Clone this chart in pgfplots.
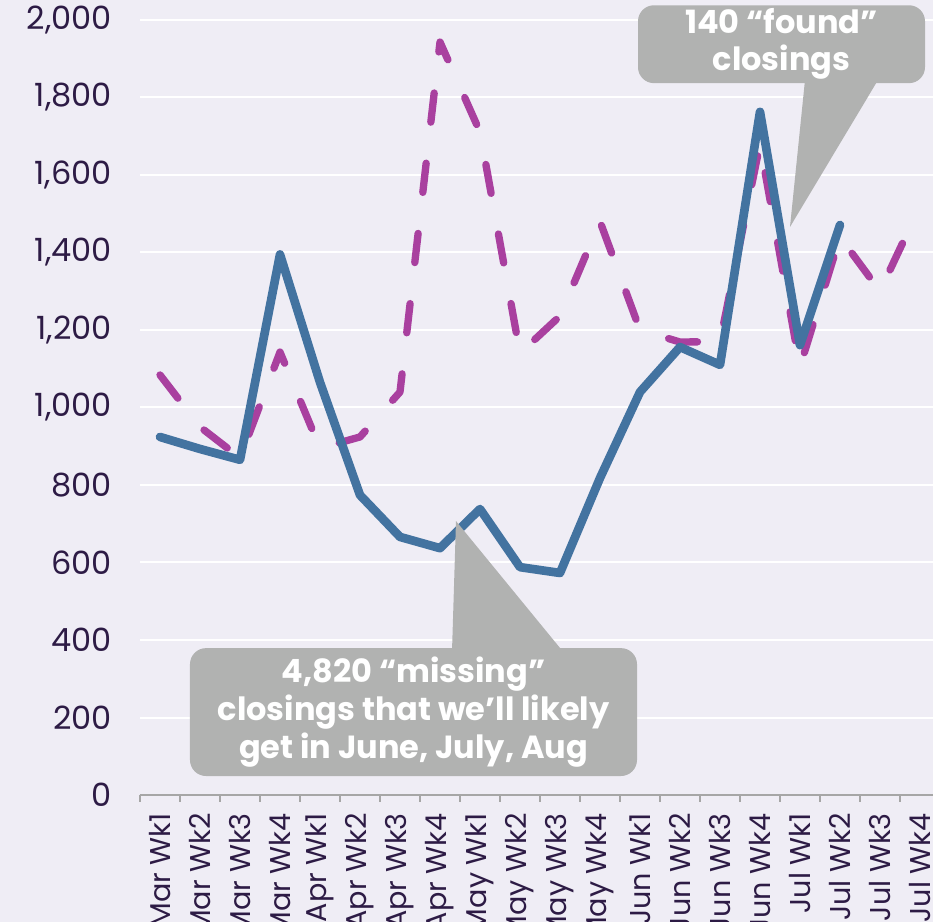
\documentclass[border=0pt]{standalone}
\usepackage{fontspec}
\setmainfont{Poppins}
\usepackage{pgfplots}
\pgfplotsset{compat=1.18}
\definecolor{bgpurple}{HTML}{EFEDF5}
\definecolor{lineblue}{HTML}{4373A0}
\definecolor{linemag}{HTML}{A9409F}
\definecolor{callgray}{HTML}{B1B2B1}
\definecolor{txtpurple}{HTML}{2D1B45}
\definecolor{axgray}{HTML}{A6A6A6}

\begin{document}
\begin{tikzpicture}
\path[use as bounding box, fill=bgpurple] (-105pt,-95.25pt) rectangle (594.75pt,596.25pt);
\begin{axis}[
    at={(0,0)}, anchor=south west,
    scale only axis, width=594.75pt, height=581.25pt,
    xmin=-0.5, xmax=19.325, ymin=0, ymax=2000,
    clip=false,
    axis x line*=bottom, axis y line*=left,
    y axis line style={draw=none},
    x axis line style={draw=axgray, line width=1.5pt, -},
    ytick={0,200,...,2000},
    ymajorgrids,
    grid style={white, line width=1.5pt},
    major tick length=0pt,
    xtick={0,...,19},
    xticklabels={Mar Wk1,Mar Wk2,Mar Wk3,Mar Wk4,Apr Wk1,Apr Wk2,Apr Wk3,Apr Wk4,May Wk1,May Wk2,May Wk3,May Wk4,Jun Wk1,Jun Wk2,Jun Wk3,Jun Wk4,Jul Wk1,Jul Wk2,Jul Wk3,Jul Wk4},
    xticklabel style={yshift=-13.5pt, rotate=90, anchor=east, inner sep=0pt,
        font=\fontsize{21.5}{25}\selectfont, text=txtpurple},
    yticklabel style={anchor=east, inner sep=0pt, xshift=-21pt,
        font=\fontsize{24}{28}\selectfont, text=txtpurple},
    /pgf/number format/assume math mode=true,
    /pgf/number format/1000 sep={,},
    scaled y ticks=false,
    extra x ticks={-0.5,0.5,...,18.5},
    extra x tick labels={},
    extra x tick style={major tick length=5pt, tick align=outside,
        grid=none, tick style={draw=axgray, line width=1.5pt}},
]
% last year (dashed)
\addplot[linemag, line width=5.5pt, line cap=round, line join=round,
    dash pattern=on 22pt off 31pt] coordinates {
    (0,1084) (1,950) (2,870) (3,1143) (4,895) (5,924) (6,1040) (7,1943)
    (8,1711) (9,1140) (10,1236) (11,1480) (12,1200) (13,1169) (14,1170)
    (15,1680) (16,1105) (17,1440) (18,1300) (19,1520)};
% this year
\addplot[lineblue, line width=6.5pt, line cap=round, line join=round] coordinates {
    (0,924) (1,893) (2,865) (3,1395) (4,1065) (5,774) (6,666) (7,637)
    (8,738) (9,588) (10,573) (11,818) (12,1040) (13,1156) (14,1110)
    (15,1763) (16,1161) (17,1471)};

% callouts
\fill[callgray, rounded corners=12pt] (axis cs:11.95,2038) rectangle (axis cs:19.125,1837);
\fill[callgray] (axis cs:16.125,1845) -- (axis cs:17.95,1845) -- (axis cs:15.75,1466) -- cycle;
\node[white, font=\bfseries\fontsize{24}{28}\selectfont, align=center]
    at (axis cs:15.54,1938) {140 “found”\\closings};

\fill[callgray, rounded corners=12pt] (axis cs:0.75,379) rectangle (axis cs:11.925,49);
\fill[callgray] (axis cs:7.3,370) -- (axis cs:10.075,370) -- (axis cs:7.4,707) -- cycle;
\node[white, font=\bfseries\fontsize{24}{28.5}\selectfont, align=center]
    at (axis cs:6.34,214) {4,820 “missing”\\closings that we’ll likely\\get in June, July, Aug};
\end{axis}
\end{tikzpicture}
\end{document}
